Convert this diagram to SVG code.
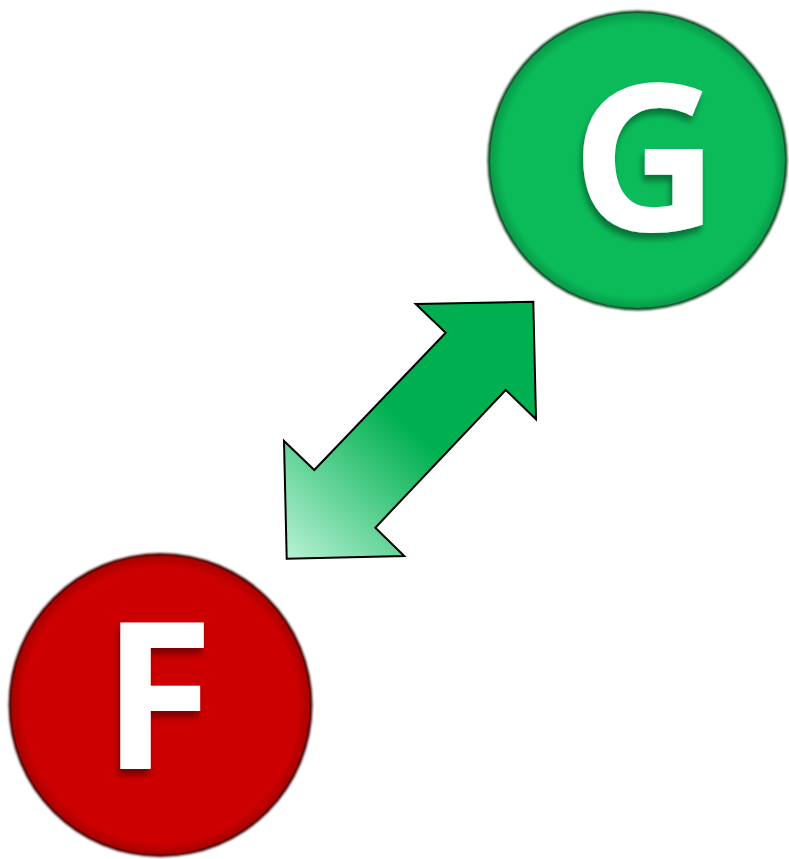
<svg xmlns="http://www.w3.org/2000/svg" width="789" height="859" viewBox="0 0 789 859">
<defs>
<style>
.letter{font-family:"Open Sans","Noto Sans","Liberation Sans",sans-serif;font-weight:bold;font-size:204px;fill:#ffffff}
.arrow{stroke:#000000;stroke-width:2;stroke-linejoin:miter}
</style>
<filter id="edge" x="-10%" y="-10%" width="120%" height="120%"><feGaussianBlur stdDeviation="1.2"/></filter>
<filter id="shadow" x="-20%" y="-20%" width="140%" height="140%">
<feGaussianBlur in="SourceAlpha" stdDeviation="3"/>
<feOffset dx="-2" dy="6" result="b"/>
<feFlood flood-color="#000000" flood-opacity="0.4"/>
<feComposite in2="b" operator="in" result="s"/>
<feMerge><feMergeNode in="s"/><feMergeNode in="SourceGraphic"/></feMerge>
</filter>
<radialGradient id="gG" cx="0.5" cy="0.5" r="0.5">
<stop offset="0.92" stop-color="#0bbb5a"/>
<stop offset="1" stop-color="#079a48"/>
</radialGradient>
<radialGradient id="gF" cx="0.5" cy="0.5" r="0.5">
<stop offset="0.92" stop-color="#cc0000"/>
<stop offset="1" stop-color="#a80000"/>
</radialGradient>
<linearGradient id="ga" gradientUnits="userSpaceOnUse" x1="290" y1="556" x2="410" y2="428">
<stop offset="0" stop-color="#b4f0d2"/>
<stop offset="1" stop-color="#00b050"/>
</linearGradient>
</defs>
<g id="connectors">
<polygon class="arrow" fill="url(#ga)" points="415.7,304 533.3,301.7 536,419.3 505.7,390 375.3,527.7 404.3,556 286.7,558.7 284,441 314.3,470 445.7,332.7"/>
</g>
<g id="node-G">
<circle cx="637.5" cy="160.5" r="150" fill="#0a4a20" filter="url(#edge)"/>
<circle cx="637.5" cy="160.5" r="147.5" fill="url(#gG)"/>
<text class="letter" x="645" y="231" text-anchor="middle" filter="url(#shadow)">G</text>
</g>
<g id="node-F">
<circle cx="160.5" cy="705" r="152" fill="#4a0000" filter="url(#edge)"/>
<circle cx="160.5" cy="705" r="149.5" fill="url(#gF)"/>
<text class="letter" x="158" y="769" text-anchor="middle" filter="url(#shadow)">F</text>
</g>
</svg>
